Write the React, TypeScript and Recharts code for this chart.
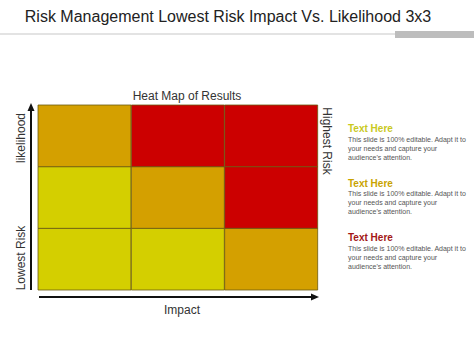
import React from "react";
import { BarChart, Bar, XAxis, YAxis, Cell, Customized } from "recharts";

const impactCategories = ["Low", "Medium", "High"];
const lowLikelihoodBand = [1, 1, 1];
const midLikelihoodBand = [1, 1, 1];
const highLikelihoodBand = [1, 1, 1];
const lowRowRisk = ["low", "low", "medium"];
const midRowRisk = ["low", "medium", "high"];
const highRowRisk = ["medium", "high", "high"];

const riskColors: Record<string, string> = {
  low: "#D4CF00",
  medium: "#D4A000",
  high: "#CC0000",
};

const noteTitles = ["Text Here", "Text Here", "Text Here"];
const noteTitleColors = ["#C9C91E", "#C9A300", "#A31616"];
const noteBody = [
  "This slide is 100% editable. Adapt it to",
  "your needs and capture your",
  "audience's attention.",
];

const data = impactCategories.map((c, i) => ({
  impact: c,
  low: lowLikelihoodBand[i],
  mid: midLikelihoodBand[i],
  high: highLikelihoodBand[i],
}));

const FONT = "'Liberation Sans', Arial, sans-serif";

const Decorations = () => (
  <g fontFamily={FONT}>
    <text x={228} y={22} textAnchor="middle" fontSize={16} fill="#222">
      Risk Management Lowest Risk Impact Vs. Likelihood 3x3
    </text>
    <line x1={0} y1={34} x2={395} y2={34} stroke="#c8c8c8" strokeWidth={1.2} />
    <rect x={395} y={31} width={79} height={7} fill="#bdbdbd" />
    <text x={187} y={100} textAnchor="middle" fontSize={12} fill="#333">
      Heat Map of Results
    </text>
    <text x={182} y={314} textAnchor="middle" fontSize={12} fill="#333">
      Impact
    </text>
    <text transform="translate(25,138) rotate(-90)" textAnchor="middle" fontSize={12} fill="#333">
      likelihood
    </text>
    <text transform="translate(25,258) rotate(-90)" textAnchor="middle" fontSize={12} fill="#333">
      Lowest Risk
    </text>
    <text transform="translate(323,141) rotate(90)" textAnchor="middle" fontSize={12} fill="#333">
      Highest Risk
    </text>
    <line x1={31} y1={290} x2={31} y2={110} stroke="#111" strokeWidth={2} />
    <polygon points="31,103 27.5,111 34.5,111" fill="#111" />
    <line x1={39} y1={297} x2={312} y2={297} stroke="#111" strokeWidth={2} />
    <polygon points="319,297 311,293.5 311,300.5" fill="#111" />
    {noteTitles.map((t, i) => {
      const y0 = 132 + i * 54.5;
      return (
        <g key={i}>
          <text x={348} y={y0} fontSize={10} fontWeight="bold" fill={noteTitleColors[i]}>
            {t}
          </text>
          {noteBody.map((line, j) => (
            <text key={j} x={348} y={y0 + 9.5 + j * 9} fontSize={7} fill="#555">
              {line}
            </text>
          ))}
        </g>
      );
    })}
  </g>
);

export default function App() {
  return (
    <div style={{ position: "absolute", left: 0, top: 0 }}>
      <BarChart
        width={474}
        height={355}
        data={data}
        margin={{ top: 105, right: 156, bottom: 65, left: 38 }}
        barCategoryGap={0}
        barGap={0}
      >
        <XAxis dataKey="impact" hide />
        <YAxis hide domain={[0, 3]} />
        <Bar dataKey="low" stackId="a" isAnimationActive={false} stroke="#6b5a10" strokeWidth={0.8}>
          {lowRowRisk.map((r, i) => (
            <Cell key={i} fill={riskColors[r]} />
          ))}
        </Bar>
        <Bar dataKey="mid" stackId="a" isAnimationActive={false} stroke="#6b5a10" strokeWidth={0.8}>
          {midRowRisk.map((r, i) => (
            <Cell key={i} fill={riskColors[r]} />
          ))}
        </Bar>
        <Bar dataKey="high" stackId="a" isAnimationActive={false} stroke="#6b5a10" strokeWidth={0.8}>
          {highRowRisk.map((r, i) => (
            <Cell key={i} fill={riskColors[r]} />
          ))}
        </Bar>
        <Customized component={Decorations} />
      </BarChart>
    </div>
  );
}
